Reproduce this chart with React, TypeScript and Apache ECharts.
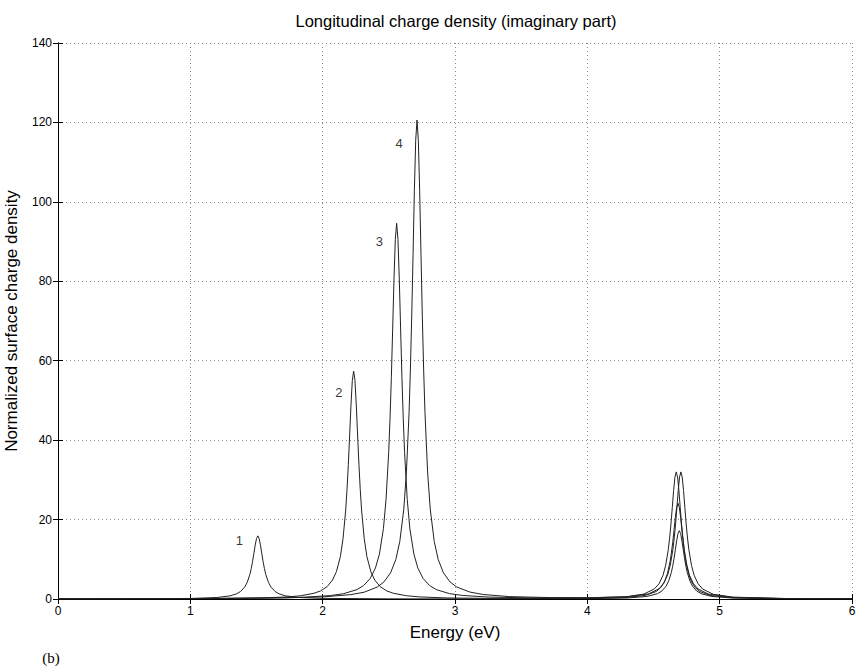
import React, { useEffect, useRef } from "react";
import * as echarts from "echarts";

// Curve samples [energy (eV), normalized surface charge density]
const curve1: number[][] = [
  [0, 0.02], [0.5, 0.04], [1.0, 0.14], [1.2, 0.37], [1.3, 0.79], [1.35, 1.31], [1.38, 1.91], [1.41, 2.97],
  [1.43, 4.21], [1.45, 6.2], [1.46, 7.63], [1.47, 9.38], [1.48, 11.43], [1.49, 13.55], [1.5, 15.23], [1.51, 15.9],
  [1.52, 15.23], [1.53, 13.55], [1.54, 11.43], [1.55, 9.38], [1.56, 7.63], [1.57, 6.2], [1.59, 4.21], [1.61, 2.97],
  [1.64, 1.91], [1.67, 1.31], [1.72, 0.79], [1.82, 0.37], [2.0, 0.15], [2.5, 0.04], [3.0, 0.02], [3.5, 0.04],
  [4.0, 0.08], [4.3, 0.25], [4.45, 0.64], [4.53, 1.34], [4.565, 2.06], [4.595, 3.22], [4.615, 4.56], [4.635, 6.71],
  [4.645, 8.26], [4.655, 10.15], [4.665, 12.37], [4.675, 14.65], [4.685, 16.48], [4.695, 17.2], [4.705, 16.48],
  [4.715, 14.65], [4.725, 12.37], [4.735, 10.15], [4.745, 8.26], [4.755, 6.71], [4.775, 4.56], [4.795, 3.22],
  [4.825, 2.06], [4.86, 1.34], [4.94, 0.64], [5.1, 0.24], [5.5, 0.06], [6.0, 0.02],
];

const curve2: number[][] = [
  [0, 0.03], [0.5, 0.04], [1.0, 0.09], [1.234, 0.13], [1.534, 0.27], [1.734, 0.52], [1.834, 0.82], [1.934, 1.44],
  [1.984, 2.04], [2.034, 3.13], [2.074, 4.74], [2.104, 6.89], [2.134, 10.7], [2.154, 15.2], [2.174, 22.4],
  [2.184, 27.6], [2.194, 33.9], [2.204, 41.3], [2.214, 48.9], [2.224, 55.0], [2.234, 57.4], [2.244, 55.0],
  [2.254, 48.9], [2.264, 41.3], [2.274, 33.9], [2.284, 27.6], [2.294, 22.4], [2.314, 15.2], [2.334, 10.7],
  [2.364, 6.89], [2.394, 4.74], [2.434, 3.13], [2.484, 2.04], [2.534, 1.44], [2.634, 0.82], [2.734, 0.52],
  [2.934, 0.27], [3.234, 0.16], [3.734, 0.12], [4.0, 0.16], [4.3, 0.4], [4.44, 0.92], [4.52, 1.88], [4.555, 2.89],
  [4.585, 4.51], [4.605, 6.39], [4.625, 9.4], [4.635, 11.57], [4.645, 14.22], [4.655, 17.33], [4.665, 20.53],
  [4.675, 23.09], [4.685, 24.1], [4.695, 23.09], [4.705, 20.53], [4.715, 17.33], [4.725, 14.22], [4.735, 11.57],
  [4.745, 9.4], [4.765, 6.39], [4.785, 4.51], [4.815, 2.89], [4.85, 1.88], [4.93, 0.89], [5.1, 0.32], [5.5, 0.08],
  [6.0, 0.03],
];

const curve3: number[][] = [
  [0, 0.03], [0.5, 0.05], [1.0, 0.09], [1.559, 0.22], [1.859, 0.44], [2.059, 0.86], [2.159, 1.34], [2.259, 2.37],
  [2.309, 3.37], [2.359, 5.16], [2.399, 7.81], [2.429, 11.35], [2.459, 17.7], [2.479, 25.1], [2.499, 36.9],
  [2.509, 45.4], [2.519, 55.8], [2.529, 68.0], [2.539, 80.6], [2.549, 90.6], [2.559, 94.6], [2.569, 90.6],
  [2.579, 80.6], [2.589, 68.0], [2.599, 55.8], [2.609, 45.4], [2.619, 36.9], [2.639, 25.1], [2.659, 17.7],
  [2.689, 11.35], [2.719, 7.81], [2.759, 5.16], [2.809, 3.37], [2.859, 2.37], [2.959, 1.34], [3.059, 0.89],
  [3.259, 0.48], [3.559, 0.28], [4.0, 0.27], [4.3, 0.59], [4.427, 1.24], [4.507, 2.55], [4.542, 3.84],
  [4.572, 5.98], [4.592, 8.48], [4.612, 12.48], [4.622, 15.36], [4.632, 18.88], [4.642, 23.0], [4.652, 27.3],
  [4.662, 30.7], [4.672, 32.0], [4.682, 30.7], [4.692, 27.3], [4.702, 23.0], [4.712, 18.88], [4.722, 15.36],
  [4.732, 12.48], [4.752, 8.48], [4.772, 5.98], [4.802, 3.84], [4.837, 2.5], [4.917, 1.22], [5.1, 0.4],
  [5.5, 0.11], [6.0, 0.07],
];

const curve4: number[][] = [
  [0, 0.04], [0.5, 0.06], [1.0, 0.1], [1.713, 0.28], [2.013, 0.56], [2.213, 1.1], [2.313, 1.71], [2.413, 3.02],
  [2.463, 4.29], [2.513, 6.57], [2.553, 9.96], [2.583, 14.5], [2.613, 22.6], [2.633, 32.0], [2.653, 47.0],
  [2.663, 57.9], [2.673, 71.2], [2.683, 86.7], [2.693, 102.8], [2.703, 115.5], [2.713, 120.6], [2.723, 115.5],
  [2.733, 102.8], [2.743, 86.7], [2.753, 71.2], [2.763, 57.9], [2.773, 47.0], [2.793, 32.0], [2.813, 22.6],
  [2.843, 14.5], [2.873, 9.96], [2.913, 6.57], [2.963, 4.29], [3.013, 3.02], [3.113, 1.74], [3.213, 1.13],
  [3.413, 0.6], [3.713, 0.36], [4.0, 0.32], [4.3, 0.55], [4.462, 1.27], [4.542, 2.58], [4.577, 3.92],
  [4.607, 6.06], [4.627, 8.56], [4.647, 12.55], [4.657, 15.43], [4.667, 18.95], [4.677, 23.07], [4.687, 27.33],
  [4.697, 30.7], [4.707, 32.0], [4.717, 30.7], [4.727, 27.3], [4.737, 23.0], [4.747, 18.88], [4.757, 15.36],
  [4.767, 12.48], [4.787, 8.48], [4.807, 5.98], [4.837, 3.84], [4.872, 2.5], [4.952, 1.18], [5.1, 0.47],
  [5.5, 0.12], [6.0, 0.06],
];

const curveNames = ["1", "2", "3", "4"];
// label anchor positions in data coordinates [energy, density]
const curveLabelPos: number[][] = [
  [1.37, 14.8],
  [2.123, 51.9],
  [2.428, 89.9],
  [2.578, 114.8],
];

const titleText = "Longitudinal charge density (imaginary part)";
const xAxisName = "Energy (eV)";
const yAxisName = "Normalized surface charge density";
const panelTag = "(b)";

const X_MIN = 0, X_MAX = 6, X_STEP = 1;
const Y_MIN = 0, Y_MAX = 140, Y_STEP = 20;

const SANS = "'Liberation Sans', Arial, Helvetica, sans-serif";
const SERIF = "'Liberation Serif', 'Times New Roman', serif";

export default function App() {
  const ref = useRef<HTMLDivElement>(null);

  useEffect(() => {
    if (!ref.current) return;
    const chart = echarts.init(ref.current, null, { renderer: "svg" });
    const curves = [curve1, curve2, curve3, curve4];

    const axisCommon = {
      type: "value" as const,
      axisLine: { show: true, lineStyle: { color: "#000", width: 1 } },
      axisTick: { show: true, inside: true, length: 5, lineStyle: { color: "#000", width: 1 } },
    };

    chart.setOption({
      animation: false,
      backgroundColor: "#fff",
      textStyle: { fontFamily: SANS },
      grid: {
        left: 58,
        right: 12,
        top: 43,
        bottom: 70,
        containLabel: false,
        outerBoundsMode: "none",
      },
      graphic: [
        {
          type: "text",
          x: 456,
          y: 21,
          style: {
            text: titleText,
            font: `16.5px ${SANS}`,
            fill: "#000",
            textAlign: "center",
            textVerticalAlign: "middle",
          },
        },
        {
          type: "text",
          x: 51,
          y: 658,
          style: {
            text: panelTag,
            font: `15px ${SERIF}`,
            fill: "#000",
            textAlign: "center",
            textVerticalAlign: "middle",
          },
        },
      ],
      xAxis: [
        {
          ...axisCommon,
          position: "bottom",
          min: X_MIN,
          max: X_MAX,
          interval: X_STEP,
          axisLabel: { color: "#000", fontSize: 12, margin: 6, fontFamily: SANS },
          splitLine: { show: true, lineStyle: { color: "#8a8a8a", type: [1, 3], width: 1 } },
          name: xAxisName,
          nameLocation: "middle",
          nameGap: 25,
          nameTextStyle: { color: "#000", fontSize: 17, fontFamily: SANS },
        },
        {
          ...axisCommon,
          position: "top",
          min: X_MIN,
          max: X_MAX,
          interval: X_STEP,
          axisLabel: { show: false },
          splitLine: { show: false },
        },
      ],
      yAxis: [
        {
          ...axisCommon,
          position: "left",
          min: Y_MIN,
          max: Y_MAX,
          interval: Y_STEP,
          axisLabel: { color: "#000", fontSize: 12, margin: 6, fontFamily: SANS },
          splitLine: { show: true, lineStyle: { color: "#8a8a8a", type: [1, 3], width: 1 } },
          name: yAxisName,
          nameLocation: "middle",
          nameGap: 38,
          nameTextStyle: { color: "#000", fontSize: 17, fontFamily: SANS },
        },
        {
          ...axisCommon,
          position: "right",
          min: Y_MIN,
          max: Y_MAX,
          interval: Y_STEP,
          axisLabel: { show: false },
          splitLine: { show: false },
        },
      ],
      series: [
        ...curves.map((c, i) => ({
          type: "line",
          name: curveNames[i],
          data: c,
          xAxisIndex: 0,
          yAxisIndex: 0,
          showSymbol: false,
          symbol: "none",
          smooth: false,
          lineStyle: { color: "#222", width: 1 },
          itemStyle: { color: "#222" },
          z: 3,
        })),
        {
          type: "scatter",
          xAxisIndex: 0,
          yAxisIndex: 0,
          symbolSize: 1,
          itemStyle: { color: "rgba(0,0,0,0)" },
          data: curveLabelPos.map((p, i) => ({
            value: p,
            name: curveNames[i],
            label: { color: "#000" },
          })),
          label: {
            show: true,
            position: "inside",
            formatter: (p: any) => p.name,
            color: "#000",
            fontSize: 13,
            fontFamily: SANS,
          },
          silent: true,
          z: 4,
        },
      ],
    });

    return () => chart.dispose();
  }, []);

  return (
    <div
      ref={ref}
      style={{ position: "fixed", left: 0, top: 0, width: 864, height: 669 }}
    />
  );
}
